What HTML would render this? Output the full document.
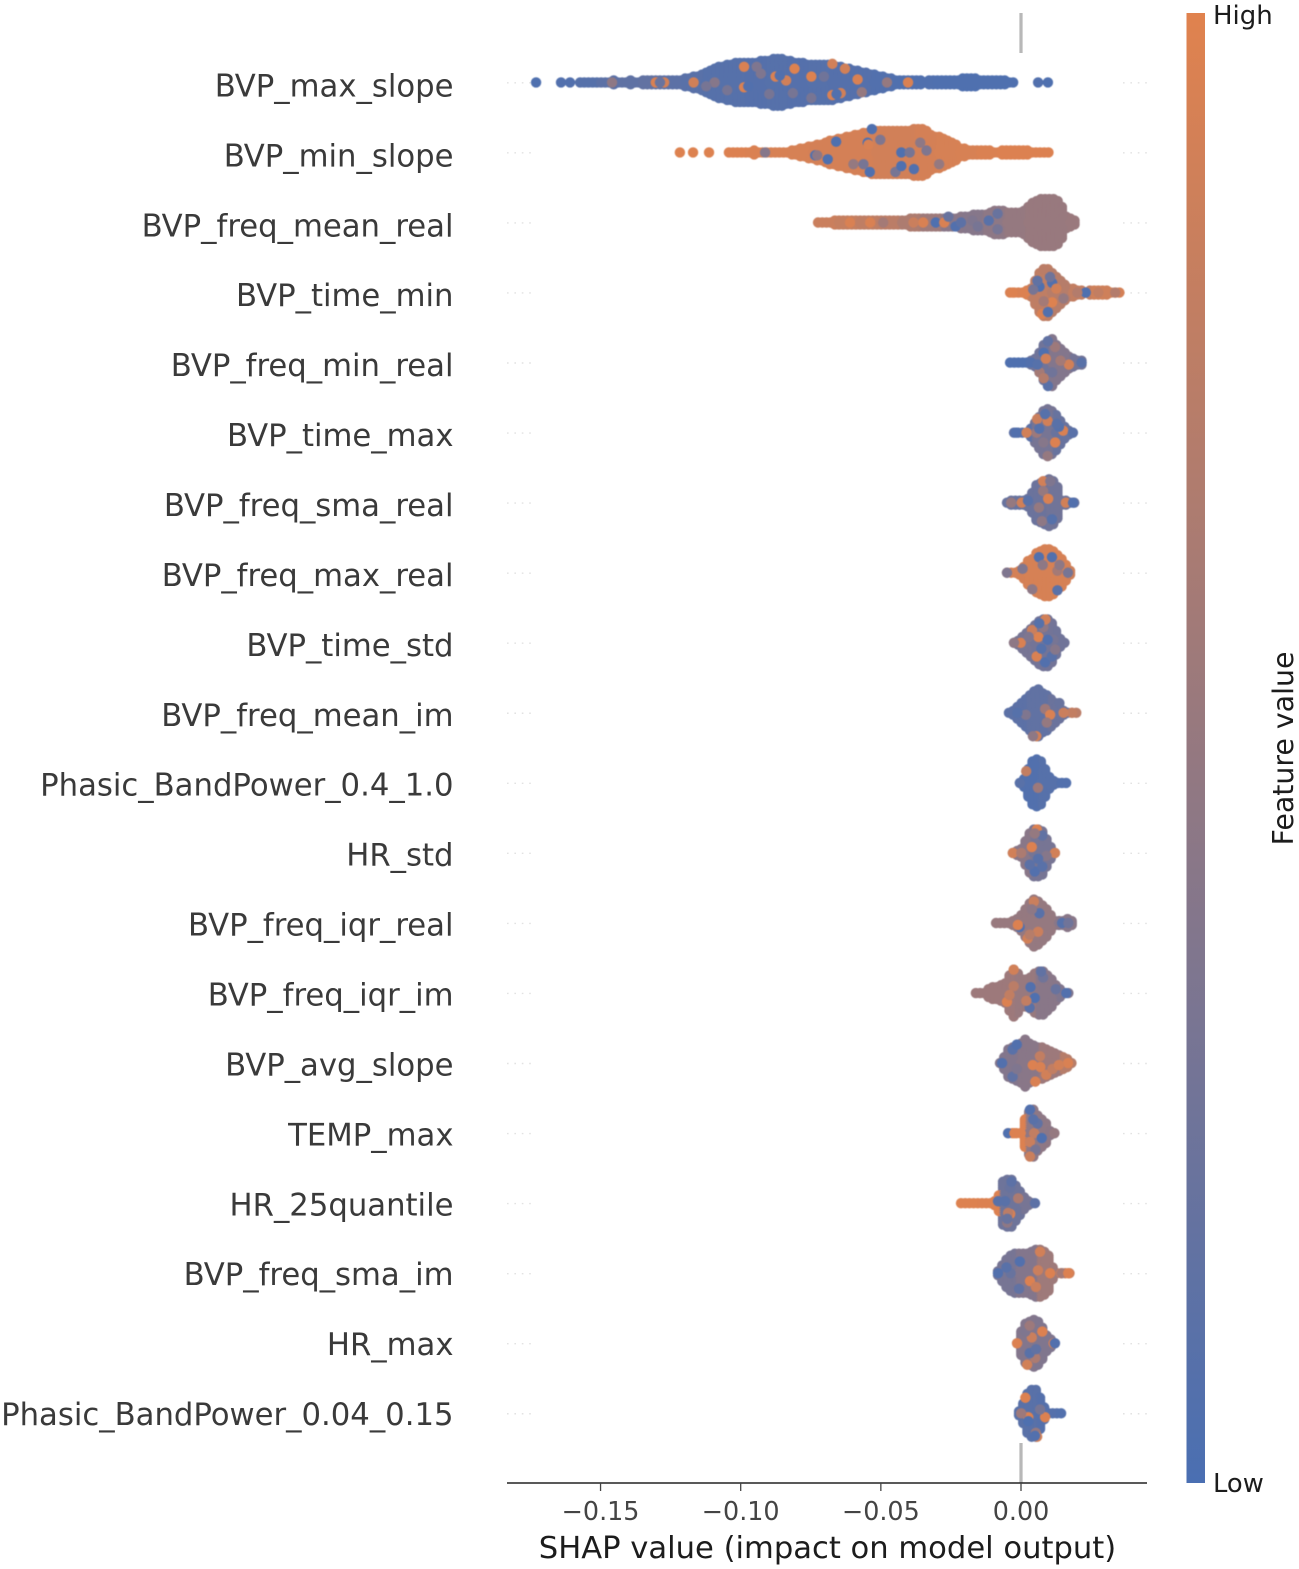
<!DOCTYPE html>
<html lang="en">
<head>
<meta charset="utf-8">
<title>SHAP beeswarm summary</title>
<style>
html,body{margin:0;padding:0;background:#fff;width:1299px;height:1569px;overflow:hidden}
svg{display:block;font-family:"DejaVu Sans","Liberation Sans",sans-serif}
#dots{filter:blur(0.4px)}
</style>
</head>
<body>
<svg id="chart" xmlns="http://www.w3.org/2000/svg" width="1299" height="1569" viewBox="0 0 1299 1569">
  <defs>
    <linearGradient id="cbar" x1="0" y1="1" x2="0" y2="0">
      <stop offset="0" stop-color="#4a6fb2"/>
      <stop offset="1" stop-color="#e0824e"/>
    </linearGradient>
  </defs>
  <g id="guides"></g>
  <line id="zero-top" stroke="#b8b8b8" stroke-width="3.2"/>
  <line id="zero-bottom" stroke="#b8b8b8" stroke-width="3.2"/>
  <g id="dots"></g>
  <g id="labels"></g>
  <line x1="507" y1="1483" x2="1147" y2="1483" stroke="#222" stroke-width="1.6"/>
  <g id="ticks"></g>
  <text x="827.5" y="1558" text-anchor="middle" font-size="30.6" fill="#1c1c1c">SHAP value (impact on model output)</text>
  <rect x="1186.5" y="13" width="18.5" height="1470" fill="url(#cbar)"/>
  <text x="1213" y="24" font-size="26" fill="#1c1c1c">High</text>
  <text x="1213" y="1492" font-size="25.8" fill="#1c1c1c">Low</text>
  <text transform="translate(1293,748.5) rotate(-90)" text-anchor="middle" font-size="28.4" fill="#1c1c1c">Feature value</text>
</svg>
<script>
const features = ["BVP_max_slope","BVP_min_slope","BVP_freq_mean_real","BVP_time_min","BVP_freq_min_real","BVP_time_max","BVP_freq_sma_real","BVP_freq_max_real","BVP_time_std","BVP_freq_mean_im","Phasic_BandPower_0.4_1.0","HR_std","BVP_freq_iqr_real","BVP_freq_iqr_im","BVP_avg_slope","TEMP_max","HR_25quantile","BVP_freq_sma_im","HR_max","Phasic_BandPower_0.04_0.15"];
const tickValues = [-0.15,-0.10,-0.05,0];
const tickLabels = ["\u22120.15","\u22120.10","\u22120.05","0.00"];
const binWidth = 0.0015;
const valueChunk = 5;
// SHAP value of the first occupied bin of each row
const rowStarts = [-0.1573,-0.1042,-0.0724,-0.0039,-0.0039,-0.0025,-0.0050,-0.0050,-0.0025,-0.0043,-0.0004,-0.0029,-0.0089,-0.0161,-0.0075,-0.0046,-0.0214,-0.0082,-0.0014,-0.0007];
// stack depth (points on each side of the row centre) per SHAP bin
const rowCounts = [
[0,0,0,0,0,0,0,0,1,0,0,0,1,0,0,1,1,1,1,1,1,1,1,1,1,2,2,3,3,4,5,6,7,8,8,9,9,10,10,10,10,10,10,11,11,11,12,12,12,11,11,10,10,10,9,9,9,9,9,9,9,8,8,7,7,6,6,5,5,4,4,3,3,2,2,1,1,1,1,1,1,1,0,1,1,1,1,1,1,1,1,2,2,2,2,1,1,1,1,1,1,1,0,0],
[0,0,0,0,0,0,1,0,0,0,0,0,0,0,0,1,1,2,2,3,3,4,4,5,6,6,7,7,8,8,9,9,10,10,11,11,11,11,11,11,11,11,11,11,12,12,12,11,9,8,8,7,6,5,4,2,2,1,1,1,1,1,1,0,0,1,1,1,1,1,1,1,0,0,0,0,0],
[0,0,0,0,1,1,1,1,1,1,1,1,1,1,1,1,1,1,1,1,1,1,2,2,2,2,2,2,2,2,2,2,2,2,3,3,3,4,4,4,4,5,6,6,6,5,5,5,5,6,8,10,11,12,12,12,12,11,8,3,2,1],
[0,0,0,0,1,2,6,10,12,12,10,8,6,4,2,2,1,1,0,1,1,1,1,1,0,0,0],
[0,0,0,0,0,1,2,5,9,11,12,9,7,5,3,2,1,1],
[0,0,0,0,2,5,8,11,12,11,9,6,3,1,0],
[0,1,1,1,1,2,5,9,10,11,12,11,8,1,1,0,0],
[0,0,0,1,3,6,7,10,11,12,12,11,9,7,4,1],
[0,1,3,5,7,9,11,12,12,10,6,2,0],
[0,1,3,5,7,9,11,12,10,9,7,5,3,1,0,0,0],
[0,2,7,11,12,11,7,3,1,0,0,0],
[0,1,2,6,10,12,12,11,7,3,0],
[0,0,0,0,1,2,4,7,10,12,11,9,7,4,1,1,1,2,1],
[0,0,0,2,3,3,4,5,9,12,10,7,7,8,10,11,11,9,7,4,2,0,0],
[0,3,7,8,9,10,12,10,9,8,8,7,6,5,4,3,2,0],
[0,0,0,0,7,11,12,9,7,5,1,0],
[0,0,0,0,0,0,0,0,1,4,11,12,12,9,6,3,1,0],
[1,4,7,9,10,10,10,10,11,12,12,11,9,3,0,0,0,0],
[0,6,10,11,12,11,8,4,2,0],
[1,5,10,12,12,8,3,0,0,0,0]
];
// dominant feature value (0 low .. 1 high) per group of bins
const rowValues = [
[.08,.12,.14,.16,.12,.1,.08,.08,.07,.08,.07,.08,.07,.07,.05,.04,.04,.03,.03,.03,.03],
[.97,.96,.94,.93,.92,.92,.92,.9,.9,.92,.93,.94,.96,.97,.97,.97],
[.85,.82,.78,.75,.66,.56,.42,.4,.45,.5,.52,.52,.53],
[.95,.78,.72,.8,.88,.92],
[.03,.25,.38,.28],
[.12,.3,.2],
[.2,.22,.26,.2],
[.92,.93,.93,.88],
[.3,.27,.25],
[.12,.15,.22,.75],
[.05,.08,.05],
[.42,.3,.26],
[.52,.5,.5,.42],
[.55,.55,.52,.42,.36],
[.38,.42,.55,.72],
[.97,.45,.44],
[.98,.97,.24,.3],
[.3,.38,.56,.85],
[.38,.36],
[.1,.07,.05]
];
// notable individual points drawn on top: [bin, stack level, feature value]
const rowAccents = [
[[51,-7,.98],[55,-3,.98],[46.5,-3,.95],[39,2.5,.95],[39,-8,.95],[60,6.5,.95],[66,-1.5,.95],[60,-9.5,.9],[63,-7,.9],[49,-1,.9],[32,0,.4],[43,-4.5,.35],[18,0,.95],[20,0,.9],[7.6,0,.45],[27,0,.9],[50.6,5.5,.3],[67,5,.5],[62,5.5,.9],[47.5,-3.5,.05],[40,2,.05],[78,0,.95],[73,0,.5],[19,0,.2],[61,6,.05],[35,4,.3],[42,-8,.35],[45,6,.3],[55,8,.3],[58,-3,.25],[30,2,.3]],
[[25.5,-5.5,.03],[23.5,3.5,.03],[33.5,10,.03],[33,-5,.03],[36,-6.5,.35],[39.6,10,.3],[29.6,6,.5],[32,6,.3],[20.5,1.5,.05],[21,1.5,.45],[8.6,0,.4],[41,0,.03],[34,-12,.03],[43,0,.3],[47,-1,.35],[41,7,.03],[44,8.5,.05],[45.5,-5,.45],[50,6,.5],[33.2,-4,.95]],
[[25,0,.95],[28,0,.03],[30,0,.95],[32.7,2,.05],[36.7,-1,.35],[40.6,-1,.1],[42.7,3.5,.3],[42.7,-4.5,.2],[31,-3,.2],[22.7,0,.85],[7.6,0,.95],[12.4,0,.95],[15.5,0,.6],[34,0,.12],[38,2,.3]],
[[.6,0,.98],[3.6,0,.97],[7,-3,.03],[10,-5,.05],[9.5,-8,.25],[5.5,-1.5,.3],[18,0,.03],[10,5,.98],[7.6,11,.95],[12.7,3,.5],[8,4.5,.6],[8,-12,.75],[11,-2,.9],[25,0,.7],[21,0,.8],[16,0,.7],[6.5,-6,.15],[9,10,.05]],
[[8,-5,.03],[10.7,-8,.55],[8.5,-2,.9],[14,1,.9],[12,-1,.6],[7,5,.6],[9,12,.1],[10,5,.25],[17,0,.1],[9,-11,.15],[5,0,.05],[6.5,1,.08],[8,8,.7]],
[[5.5,-7,.85],[8,-6,.9],[11.7,-1,.95],[3,0,.9],[5.4,0,.55],[9.8,5,.97],[10.7,-3,.08],[7.4,-9.5,.08],[10.2,-4.5,.1],[7,5,.4],[8,12,.5],[.5,0,.05],[14,0,.1],[6,-2,.08]],
[[8.6,-11,.9],[1,0,.5],[3.5,0,.9],[5,-1,.1],[7.6,2.5,.5],[8.6,-6,.5],[9.8,-2,.95],[10.3,-11,.35],[8.3,9.5,.45],[10.7,8.5,.08],[14,0,.9],[15.7,0,.05]],
[[0,0,.35],[3.7,-2,.35],[7.6,-8,.05],[10.7,-8,.05],[6,8.5,.45],[12,-1,.6],[8.5,-4,.45],[12,9,.1],[14.5,0,.3],[12.5,-4,.45]],
[[1.6,0,.95],[0,0,.45],[5.8,-3,.98],[7,-8,.45],[9.4,-1.5,.3],[4.3,-6.5,.85],[5.4,7,.95],[7.4,10,.05],[9,7,.1],[9.8,3.5,.4],[3.5,-3,.35],[8,-1.5,.05],[7.5,-12,.9],[6,-10,.08],[6.5,3,.08]],
[[6.5,12,.9],[8.6,-2,.55],[9.8,1,.95],[15,0,.8],[13,0,.85],[9,5,.5],[5.7,12,.45],[12,-5,.2],[4,1,.35],[2,0,.08]],
[[4.3,2.5,.55],[1.5,-6,.8],[0,0,.1],[3.5,-9,.05]],
[[5.7,-12,.97],[4.5,-3,.97],[7,-9,.15],[5.2,-10,.5],[5.2,9.5,.05],[0,0,.9],[2,0,.65],[7,7,.1],[10,0,.9],[8,1.5,.4],[4,6,.12],[6,3,.1]],
[[5.6,2,.05],[5.2,1,.97],[10,4.5,.85],[15.7,0,.08],[17.2,0,.25],[10.3,-5,.1],[7.5,8,.9],[9,-11,.85],[8,6,.72],[8.5,-7,.45]],
[[9,-12,.9],[7.4,4.5,.97],[13,-3,.05],[14,2.5,.03],[12.8,7.5,.1],[19,-2,.2],[21.5,0,.05],[9,-3.5,.75],[16,-8,.25],[15.5,-11,.15],[12,4,.8],[8,1,.8]],
[[.5,0,.05],[3,-7,.1],[4,-9.5,.05],[7.8,1,.97],[9.6,2,.95],[11,6,.9],[8.4,9.5,.95],[16.2,0,.95],[12.5,3,.8],[9.5,-3.5,.8],[3,7,.15],[4,3,.35],[14,1,.9]],
[[0,0,.03],[1.5,0,.97],[3,0,.97],[5.2,-12,.05],[6.2,0,.8],[5.2,4.5,.85],[8,2.5,.03],[6.5,8.5,.3],[5.2,12,.85],[11,0,.5],[7,-5,.15],[6,-7,.1]],
[[11.7,5.5,.95],[11.7,-8,.2],[10.5,-1,.1],[13.6,-2.5,.65],[11.2,5,.75],[11,10,.45],[17.6,0,.12],[8.8,-1,.1],[12,-11,.12],[11,8,.2]],
[[5.2,-6,.05],[10,-11,.9],[12.4,0,.97],[15.2,0,.6],[16.7,0,.97],[7.6,4,.97],[3,0,.2],[0,0,.05],[9.5,-1.5,.85],[5,8,.15],[9,7,.85],[2,-3,.1]],
[[3.5,-3,.85],[8.7,0,.97],[9,0,.05],[4.3,7.5,.65],[2.4,11,.9],[2,-6,.35],[6,-6,.97],[0,0,.97],[3,5,.1],[4.5,3,.15],[3,-9,.55]],
[[1.5,-8,.97],[2.2,2,.97],[2.2,4,.03],[6.2,2,.97],[.5,0,.55],[4,10,.5],[4.3,12,.9],[3.8,11.5,.05],[5,-2,.3]]
];
// isolated points outside the solid body of a row
const outlierShap = [[-0.1730,-0.1641,-0.1609,0.0061,0.0096],[-0.1217,-0.1170,-0.1113],[],[],[],[],[],[],[],[],[],[],[],[],[],[],[],[],[],[]];
const outlierValue = [[.03,.05,.05,.05,.03],[.98,.98,.98],[],[],[],[],[],[],[],[],[],[],[],[],[],[],[],[],[],[]];

const NS = 'http://www.w3.org/2000/svg';
const xScale = v => 1021 + v * 2803;
const yScale = i => 82.4 + i * 70.05;
const labelY = i => 96.4 + i * 69.93;
const levelPx = 1.95;
const dotR = 5.2;
const low = [74,111,178], high = [224,130,78];
const colorFor = v => 'rgb(' + low.map((c,k) => Math.round(c + (high[k]-c)*v)).join(',') + ')';

const dotsG = document.getElementById('dots');
function addDot(shap, rowIndex, level, value){
  const c = document.createElementNS(NS,'circle');
  
  
  c.setAttribute('cx', xScale(shap).toFixed(2));
  c.setAttribute('cy', (yScale(rowIndex) + level*levelPx).toFixed(2));
  c.setAttribute('r', dotR);
  c.setAttribute('fill', colorFor(value));
  dotsG.appendChild(c);
}

const guidesG = document.getElementById('guides');
const labelsG = document.getElementById('labels');
features.forEach((name, r) => {
  [[507,531],[1123,1147]].forEach(span => {
    const g = document.createElementNS(NS,'line');
    
    
    g.setAttribute('x1', span[0]);
    g.setAttribute('x2', span[1]);
    g.setAttribute('y1', yScale(r)+0.4);
    g.setAttribute('y2', yScale(r)+0.4);
    g.setAttribute('stroke', '#e2e2e2');
    g.setAttribute('stroke-width', '1.4');
    g.setAttribute('stroke-dasharray', '1.6 5.8');
    guidesG.appendChild(g);
  });
  const t = document.createElementNS(NS,'text');
  
  
  t.setAttribute('x', 453.5);
  t.setAttribute('y', labelY(r));
  t.setAttribute('text-anchor', 'end');
  t.setAttribute('font-size', '30.7');
  t.setAttribute('fill', '#3a3a3a');
  t.textContent = name;
  labelsG.appendChild(t);

  const counts = rowCounts[r];
  const maxC = Math.max(...counts);
  // outer stack levels first so the centre stays on top
  for(let lvl = maxC; lvl >= 0; lvl--){
    counts.forEach((n, b) => {
      if(n < lvl) return;
      const shap = rowStarts[r] + b*binWidth;
      const val = rowValues[r][Math.min(Math.floor(b/valueChunk), rowValues[r].length-1)];
      addDot(shap, r, lvl, val);
      if(lvl) addDot(shap, r, -lvl, val);
    });
  }
  outlierShap[r].forEach((s, k) => addDot(s, r, 0, outlierValue[r][k]));
  rowAccents[r].forEach(a => addDot(rowStarts[r] + a[0]*binWidth, r, a[1], a[2]));
});

const zx = xScale(0);
const zt = document.getElementById('zero-top');
zt.setAttribute('x1', zx); zt.setAttribute('x2', zx); zt.setAttribute('y1', 13); zt.setAttribute('y2', 53);
const zb = document.getElementById('zero-bottom');
zb.setAttribute('x1', zx); zb.setAttribute('x2', zx); zb.setAttribute('y1', 1443); zb.setAttribute('y2', 1483);

const ticksG = document.getElementById('ticks');
tickValues.forEach((v, i) => {
  const x = xScale(v);
  const l = document.createElementNS(NS,'line');
  
  
  l.setAttribute('x1', x); l.setAttribute('x2', x);
  l.setAttribute('y1', 1483); l.setAttribute('y2', 1491);
  l.setAttribute('stroke', '#444');
  l.setAttribute('stroke-width', '1.3');
  ticksG.appendChild(l);
  const t = document.createElementNS(NS,'text');
  
  
  t.setAttribute('x', x);
  t.setAttribute('y', 1520);
  t.setAttribute('text-anchor', 'middle');
  t.setAttribute('font-size', '25.4');
  t.setAttribute('fill', '#444');
  t.textContent = tickLabels[i];
  ticksG.appendChild(t);
});
</script>
</body>
</html>
